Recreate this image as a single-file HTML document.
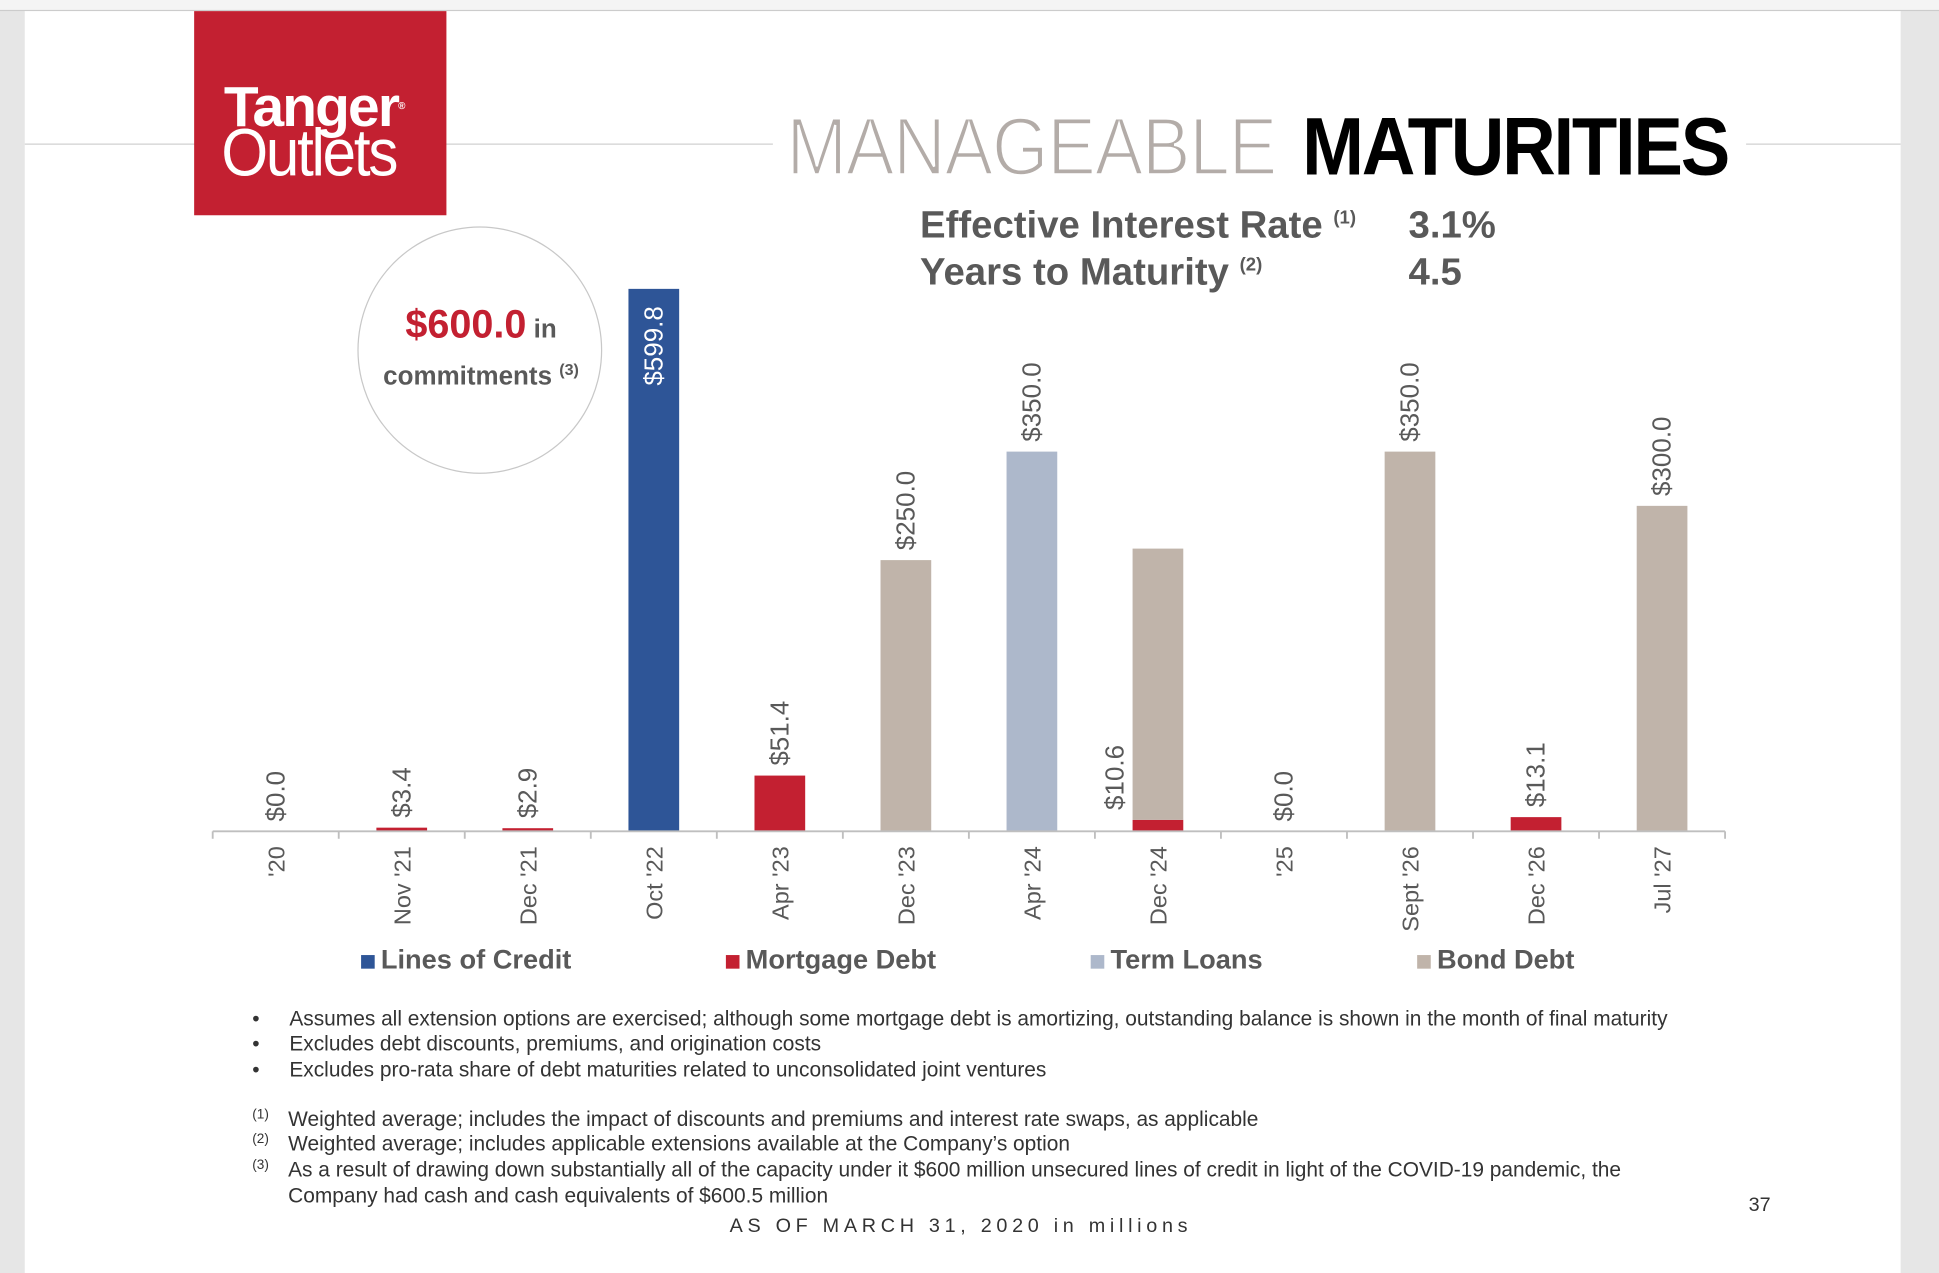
<!DOCTYPE html>
<html><head><meta charset="utf-8"><style>
html,body{margin:0;padding:0;width:1939px;height:1273px;overflow:hidden;background:#e6e6e6;}
#stage{position:absolute;left:0;top:0;width:1568px;height:1029px;transform:scale(1.23661,1.23712);transform-origin:0 0;font-family:"Liberation Sans",Arial,sans-serif;}
.abs{position:absolute;}
</style></head><body>
<div id="stage">
  <div class="abs" style="left:0;top:0;width:1568px;height:8px;background:#f4f4f4;border-bottom:1px solid #ccc"></div>
  <div class="abs" style="left:20px;top:9px;width:1517px;height:1020px;background:#fff"></div>
  <div class="abs" style="left:20px;top:116px;width:605px;height:1px;background:#d0d0d0"></div>
  <div class="abs" style="left:1412px;top:116px;width:125px;height:1px;background:#d0d0d0"></div>
  <div class="abs" style="left:157px;top:9px;width:204px;height:165px;background:#c32031;color:#fff">
    <div class="abs" style="left:24px;top:54px;font-size:46px;font-weight:bold;letter-spacing:-1.5px;line-height:46px;white-space:nowrap">Tanger<span style="font-size:8px;vertical-align:top">®</span></div>
    <div class="abs" style="left:22px;top:88px;font-size:54px;line-height:54px;letter-spacing:-2px;white-space:nowrap;transform:scaleX(0.9);transform-origin:0 0">Outlets</div>
  </div>
  <div class="abs" style="left:636px;top:84px;font-size:66px;line-height:68px;white-space:nowrap;color:#b3aca8;-webkit-text-stroke:2px #fff;transform:scaleX(0.89);transform-origin:0 0;letter-spacing:-1px">MANAGEABLE</div>
  <div class="abs" style="left:1053px;top:84px;font-size:66px;line-height:68px;white-space:nowrap;color:#000;font-weight:bold;transform:scaleX(0.91);transform-origin:0 0;letter-spacing:-2px">MATURITIES</div>
  <div class="abs" style="left:744px;top:164px;font-size:31px;font-weight:bold;color:#595959;white-space:nowrap">Effective Interest Rate <sup style="font-size:15px">(1)</sup></div>
  <div class="abs" style="left:1139px;top:164px;font-size:31px;font-weight:bold;color:#595959">3.1%</div>
  <div class="abs" style="left:744px;top:202px;font-size:31px;font-weight:bold;color:#595959;white-space:nowrap">Years to Maturity <sup style="font-size:15px">(2)</sup></div>
  <div class="abs" style="left:1139px;top:202px;font-size:31px;font-weight:bold;color:#595959">4.5</div>
  <div class="abs" style="left:289px;top:183px;width:196px;height:198px;border:1.5px solid #c8c8c8;border-radius:50%"></div>
  <div class="abs" style="left:289px;top:246px;width:200px;text-align:center;color:#595959;font-weight:bold;font-size:21px;line-height:32px">
    <span style="color:#c32031;font-size:32px">$600.0</span> in<br>commitments <sup style="font-size:13px">(3)</sup></div>
  <svg class="abs" id="chart" style="left:0;top:0" width="1568" height="760"></svg>
  <div class="abs" style="left:0;top:763px;font-size:22px;font-weight:bold;color:#595959;white-space:nowrap">
    <div class="abs" style="left:292px"><span style="display:inline-block;width:11px;height:11px;background:#2e5597;margin-right:5px"></span>Lines of Credit</div>
    <div class="abs" style="left:587px"><span style="display:inline-block;width:11px;height:11px;background:#c32031;margin-right:5px"></span>Mortgage Debt</div>
    <div class="abs" style="left:882px"><span style="display:inline-block;width:11px;height:11px;background:#adb8cb;margin-right:5px"></span>Term Loans</div>
    <div class="abs" style="left:1146px"><span style="display:inline-block;width:11px;height:11px;background:#c0b4aa;margin-right:5px"></span>Bond Debt</div>
  </div>
  <div class="abs" style="left:0;top:0;font-size:16.9px;color:#333;white-space:nowrap">
    <div class="abs" style="left:204px;top:814px">•</div><div class="abs" style="left:234px;top:814px">Assumes all extension options are exercised; although some mortgage debt is amortizing, outstanding balance is shown in the month of final maturity</div>
    <div class="abs" style="left:204px;top:834px">•</div><div class="abs" style="left:234px;top:834px">Excludes debt discounts, premiums, and origination costs</div>
    <div class="abs" style="left:204px;top:855px">•</div><div class="abs" style="left:234px;top:855px">Excludes pro-rata share of debt maturities related to unconsolidated joint ventures</div>
    <div class="abs" style="left:204px;top:895px;font-size:11px">(1)</div><div class="abs" style="left:233px;top:895px">Weighted average; includes the impact of discounts and premiums and interest rate swaps, as applicable</div>
    <div class="abs" style="left:204px;top:915px;font-size:11px">(2)</div><div class="abs" style="left:233px;top:915px">Weighted average; includes applicable extensions available at the Company’s option</div>
    <div class="abs" style="left:204px;top:936px;font-size:11px">(3)</div><div class="abs" style="left:233px;top:936px">As a result of drawing down substantially all of the capacity under it $600 million unsecured lines of credit in light of the COVID-19 pandemic, the</div>
    <div class="abs" style="left:233px;top:957px">Company had cash and cash equivalents of $600.5 million</div>
  </div>
  <div class="abs" style="left:590px;top:983px;font-size:16px;color:#333;letter-spacing:3.8px;white-space:nowrap">AS OF MARCH 31, 2020 in millions</div>
  <div class="abs" style="left:1414px;top:966px;font-size:16px;color:#333">37</div>
</div>
<script>
const categories=["'20","Nov '21","Dec '21","Oct '22","Apr '23","Dec '23","Apr '24","Dec '24","'25","Sept '26","Dec '26","Jul '27"];
const linesOfCredit=[0,0,0,599.8,0,0,0,0,0,0,0,0];
const mortgageDebt=[0,3.4,2.9,0,51.4,0,0,10.6,0,0,13.1,0];
const termLoans=[0,0,0,0,0,0,350,0,0,0,0,0];
const bondDebt=[0,0,0,0,0,250,0,250,0,350,0,300];
const valueLabels=["$0.0","$3.4","$2.9","$599.8","$51.4","$250.0","$350.0","$10.6","$0.0","$350.0","$13.1","$300.0"];
const NS="http://www.w3.org/2000/svg";
const svg=document.getElementById('chart');
const x0=172,x1=1395,base=672,pxPerUnit=0.877,cap=500,bw=41;
const step=(x1-x0)/categories.length;
function xc(i){return x0+step*(i+0.5);}
function h(v){return Math.min(v,cap)*pxPerUnit;}
function mk(t,a){const e=document.createElementNS(NS,t);for(const k in a)e.setAttribute(k,a[k]);svg.appendChild(e);return e;}
const series=[[linesOfCredit,'#2e5597','lines-of-credit'],[mortgageDebt,'#c32031','mortgage-debt'],[termLoans,'#adb8cb','term-loans'],[bondDebt,'#c0b4aa','bond-debt']];
categories.forEach((c,i)=>{
  let acc=0;
  const order=[series[1],series[0],series[2],series[3]];
  order.forEach(s=>{
    const v=s[0][i]; if(!v) return;
    const y=base-h(acc+v), ht=h(acc+v)-h(acc);
    const r=mk('rect',{x:xc(i)-bw/2,y:y,width:bw,height:ht,fill:s[1]});
    
    
    acc+=v;
  });
  const total=linesOfCredit[i]+mortgageDebt[i]+termLoans[i]+bondDebt[i];
  const inside=total>cap;
  const top=base-h(total);
  const split=mortgageDebt[i]&&bondDebt[i];
  const ly=inside?top+14:(split?base-h(mortgageDebt[i])-8:top-8);
  const lx=split?xc(i)-35:xc(i);
  const t=mk('text',{x:0,y:0,transform:`translate(${lx+7},${ly}) rotate(-90)`,'text-anchor':inside?'end':'start',fill:inside?'#fff':'#595959','font-size':21,'font-family':'Liberation Sans, Arial, sans-serif'});
  t.textContent=valueLabels[i];
  
  
  const ct=mk('text',{x:0,y:0,transform:`translate(${xc(i)+7},${base+12}) rotate(-90)`,'text-anchor':'end',fill:'#595959','font-size':19,'font-family':'Liberation Sans, Arial, sans-serif'});
  ct.textContent=c;
  
  
});
const ax=mk('line',{x1:x0,y1:base,x2:x1,y2:base,stroke:'#bfbfbf','stroke-width':1.5});


for(let i=0;i<=categories.length;i++){
  const tk=mk('line',{x1:x0+step*i,y1:base,x2:x0+step*i,y2:base+6,stroke:'#bfbfbf','stroke-width':1.5});
  
  
}
</script>
</body></html>
